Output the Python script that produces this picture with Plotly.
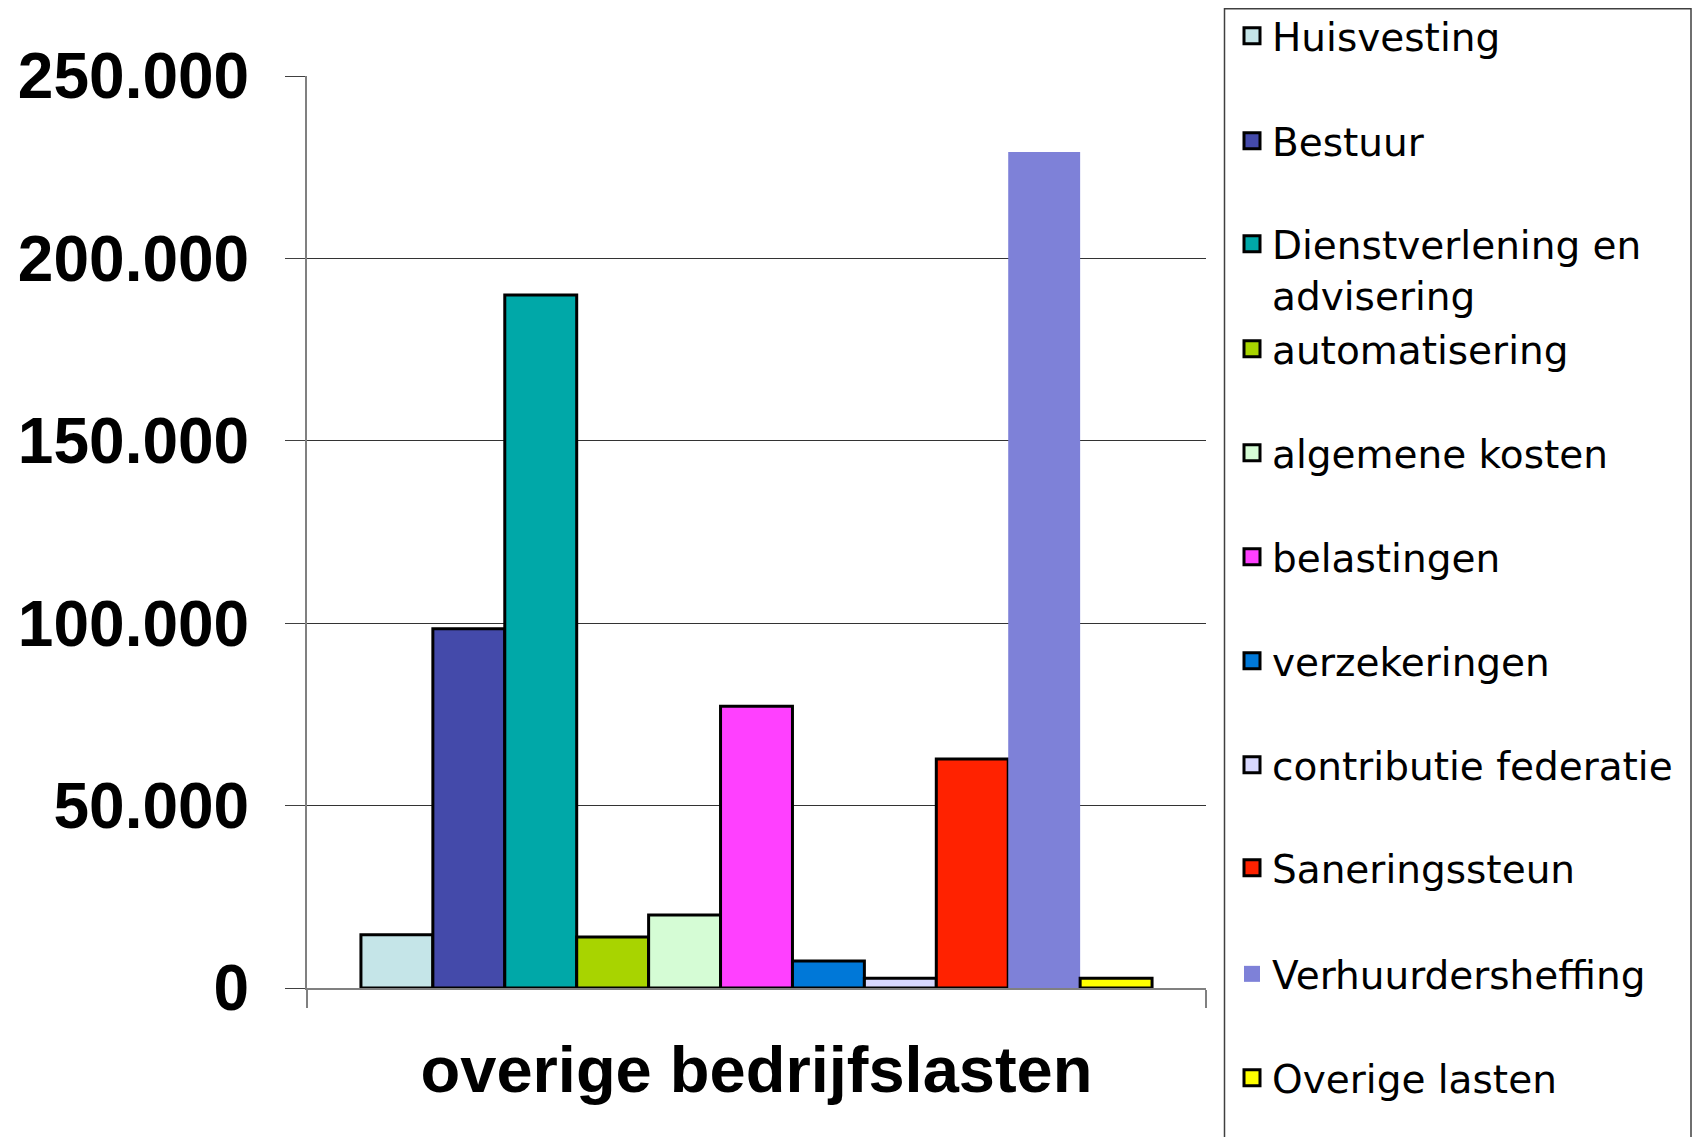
import plotly.graph_objects as go

category = ["overige bedrijfslasten"]
series_names = ["Huisvesting", "Bestuur", "Dienstverlening en<br>advisering", "automatisering",
                "algemene kosten", "belastingen", "verzekeringen", "contributie federatie",
                "Saneringssteun", "Verhuurdersheffing", "Overige lasten"]
series_values = [14600, 98500, 190000, 14000, 20000, 77200, 7400, 2700, 62800, 229200, 2700]
series_colors = ["#C5E5E8", "#444AAA", "#00A8A8", "#A8D400", "#D5FCD5", "#FF40FF",
                 "#0078D8", "#D8D8FF", "#FF2200", "#7E81D8", "#FFFF00"]
series_outline = [3, 3, 3, 3, 3, 3, 3, 3, 3, 0, 3]
y_ticks = [0, 50000, 100000, 150000, 200000, 250000]
y_tick_labels = ["0", "50.000", "100.000", "150.000", "200.000", "250.000"]

# pixel layout: page is 1700x1145, the page body adds an 8px margin around the figure
OFF = 8
W_FIG, H_FIG = 1700 - 2 * OFF, 1145 - 2 * OFF
L, R, T, B = 307 - OFF, 1206 - OFF, 76 - OFF, 988 - OFF
PW, PH = R - L, B - T


def px_x(px):
    return (px - OFF - L) / PW


def px_y(py):
    return (B - (py - OFF)) / PH


legend_centers = [36, 141, 246, 349, 453, 557, 661, 765, 868, 974, 1078]

fig = go.Figure()
layout_legends = {}
for i, (name, val, col, lw) in enumerate(zip(series_names, series_values, series_colors, series_outline)):
    key = "legend" if i == 0 else f"legend{i + 1}"
    fig.add_trace(go.Bar(
        x=category, y=[val], name=name,
        marker=dict(color=col, line=dict(color="#000000", width=lw)),
        legend=key, legendgroup=name, showlegend=False,
    ))
    # legend entry (larger square swatch than the default bar swatch)
    fig.add_trace(go.Scatter(
        x=[None], y=[None], mode="markers", name=name,
        marker=dict(symbol="square", size=16 if lw else 19, color=col,
                    line=dict(color="#000000", width=lw)),
        legend=key, legendgroup=name, showlegend=True, hoverinfo="skip",
    ))
    multi = "<br>" in name
    layout_legends[key] = dict(
        x=px_x(1232), xanchor="left",
        y=px_y(legend_centers[i] - 34) if multi else px_y(legend_centers[i]),
        yanchor="top" if multi else "middle",
        valign="top", itemsizing="trace",
        bgcolor="rgba(0,0,0,0)", borderwidth=0,
        font=dict(family="DejaVu Sans", size=39, color="#000000"),
    )

fig.update_layout(
    width=W_FIG, height=H_FIG,
    margin=dict(l=L, r=W_FIG - R, t=T, b=H_FIG - B, autoexpand=False),
    paper_bgcolor="white", plot_bgcolor="white",
    barmode="group", bargap=0.12, bargroupgap=0,
    showlegend=True,
    **layout_legends,
    xaxis=dict(
        type="category", range=[-0.5, 0.5],
        showline=True, linecolor="#808080", linewidth=2,
        ticks="outside", tickson="boundaries", ticklen=18, tickcolor="#808080", tickwidth=2,
        showgrid=False,
        tickfont=dict(family="Liberation Sans", size=65, color="#000000", weight="bold"),
        ticklabelstandoff=24,
    ),
    yaxis=dict(
        range=[0, 250000], tickvals=y_ticks, ticktext=y_tick_labels,
        showline=True, linecolor="#808080", linewidth=2,
        ticks="outside", ticklen=20, tickcolor="#404040", tickwidth=1,
        showgrid=True, gridcolor="#333333", gridwidth=1.2,
        zeroline=False,
        tickfont=dict(family="Liberation Sans", size=64, color="#000000", weight="bold"),
        ticklabelstandoff=23,
    ),
    shapes=[dict(
        type="rect", xref="paper", yref="paper",
        x0=px_x(1224.5), x1=px_x(1691), y0=px_y(1170), y1=px_y(OFF + 0.75),
        line=dict(color="#404040", width=1.5), fillcolor="rgba(0,0,0,0)", layer="above",
    )],
)

fig.write_html("out.html")
